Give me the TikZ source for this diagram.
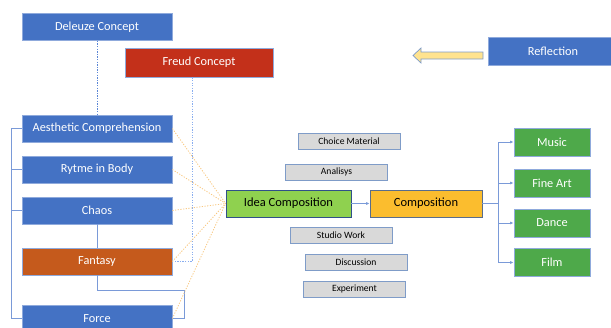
\documentclass[tikz,border=0pt]{standalone}
\usepackage{fontspec}
\setmainfont{Carlito}
\usetikzlibrary{arrows.meta}
\definecolor{bbox}{HTML}{4472C4}
\definecolor{bedge}{HTML}{8FAADC}
\definecolor{fred}{HTML}{C3301A}
\definecolor{fant}{HTML}{C55A1C}
\definecolor{gbox}{HTML}{4EA94A}
\definecolor{idea}{HTML}{8FD14F}
\definecolor{comp}{HTML}{FBBD2E}
\definecolor{grey}{HTML}{D9D9D9}
\definecolor{gedge}{HTML}{7F9CC8}
\definecolor{dotor}{HTML}{F8C77F}
\definecolor{conn}{HTML}{7A9AD8}
\definecolor{yel}{HTML}{FFE38F}
\definecolor{dl1}{HTML}{5B86D6}
\definecolor{dl2}{HTML}{8AAEF0}
\tikzset{
  base/.style={draw=bedge, line width=0.7pt, inner sep=0pt, text=white, font=\fontsize{12.3}{14}\selectfont, minimum width=150pt, minimum height=27pt},
  bluebox/.style={base, fill=bbox},
  redbox/.style={base, fill=fred},
  fantbox/.style={base, fill=fant},
  outbox/.style={base, fill=gbox, minimum width=76pt, minimum height=28pt},
  greybox/.style={draw=gedge, line width=0.7pt, fill=grey, inner sep=0pt, font=\fontsize{9.6}{11}\selectfont, minimum width=102pt, minimum height=16pt},
  dotline/.style={dotor, line width=0.8pt, dash pattern=on 1.2pt off 1.5pt},
  blued/.style={dl1, line width=0.8pt, dash pattern=on 1.3pt off 1.3pt},
  blued2/.style={dl2, line width=1pt, dash pattern=on 1.3pt off 1.3pt},
  solid1/.style={conn, line width=0.8pt},
  arr/.style={conn, line width=0.8pt, -{Latex[length=3.5pt,width=3pt]}}
}
\begin{document}
\begin{tikzpicture}[x=1pt,y=-1pt]
\useasboundingbox (0,0) rectangle (611,327);
% nodes
\node[bluebox] (dc) at (97,27) {Deleuze Concept};
\node[redbox, minimum width=148pt, minimum height=29pt] (fc) at (199,62.5) {Freud Concept};
\node[bluebox] (ac) at (97,128.5) {Aesthetic Comprehension};
\node[bluebox] (rb) at (97,169.5) {Rytme in Body};
\node[bluebox] (ch) at (97,210.5) {Chaos};
\node[fantbox] (fa) at (97,261.5) {Fantasy};
\node[bluebox] (fo) at (97,318.5) {Force};
\node[bluebox, minimum width=130pt, minimum height=28pt] (rf) at (553,51) {Reflection};
% block arrow pointing left
\draw[draw=gedge, fill=yel, line width=0.7pt]
  (483,52) -- (421,52) -- (421,48) -- (413,55.5) -- (421,63) -- (421,59) -- (483,59) -- cycle;
\node[draw=bbox!70!black, line width=0.7pt, fill=idea, inner sep=0pt, minimum width=125pt, minimum height=27pt, font=\fontsize{12.5}{14}\selectfont] (ic) at (288.5,203.5) {Idea Composition};
\node[draw=gedge!70!black, line width=0.7pt, fill=comp, inner sep=0pt, minimum width=112pt, minimum height=27pt, font=\fontsize{12.5}{14}\selectfont] (co) at (426,203.5) {Composition};
\node[greybox] (cm) at (349,141) {Choice Material};
\node[greybox] (an) at (336.5,172) {Analisys};
\node[greybox] (sw) at (341,235) {Studio Work};
\node[greybox] (di) at (356,262) {Discussion};
\node[greybox] (ex) at (354.5,289) {Experiment};
\node[outbox] (mu) at (552,142) {Music};
\node[outbox] (fi) at (552,183) {Fine Art};
\node[outbox] (da) at (552,223) {Dance};
\node[outbox] (fm) at (552,262.5) {Film};
% coordinates
\coordinate (lb) at (11,0);
\coordinate (fr) at (192,0);
\coordinate (br) at (498,0);
\coordinate (fj) at (184,0);
% dashed vertical lines
\draw[blued] (dc.south) -- (ac.north);
\draw[blued2] (fc.south -| fr) -- (fr |- fa.east) -- (fa.east);
% left bracket
\draw[solid1] (ac.west) -- (lb |- ac.west) -- (lb |- fo.west) -- (fo.west);
\draw[solid1] (rb.west) -- (lb |- rb.west);
\draw[solid1] (ch.west) -- (lb |- ch.west);
\draw[solid1] (ch.south) -- (fa.north);
\draw[solid1] (fa.south) -- ++(0,15) -| (fj |- fo.east) -- (fo.east);
% orange dotted
\foreach \n in {ac,rb,ch,fa,fo} \draw[dotline] (\n.east) -- (ic.west);
% main arrows
\draw[arr] (ic.east) -- (co.west);
\draw[solid1] (co.east) -- (br |- co.east);
\draw[solid1] (br |- mu.west) -- (br |- fm.west);
\foreach \n in {mu,fi,da,fm} \draw[arr] (br |- \n.west) -- (\n.west);
\end{tikzpicture}
\end{document}
